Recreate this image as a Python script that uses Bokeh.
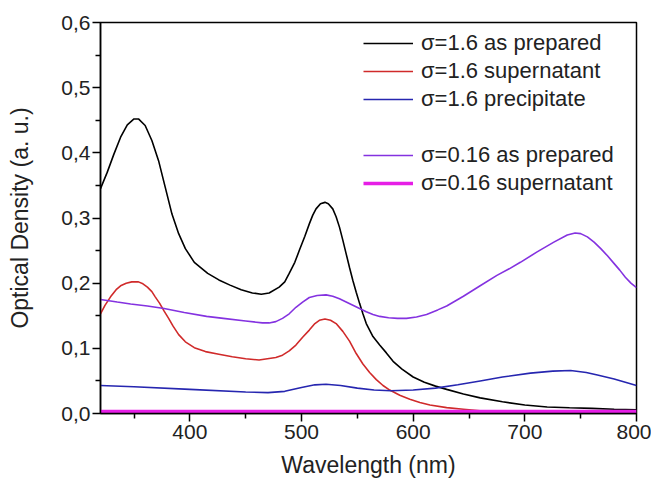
from bokeh.plotting import figure
from bokeh.models import (Range1d, FixedTicker, CustomJSTickFormatter, Legend, LegendItem)
from bokeh.embed import file_html
from bokeh.resources import INLINE

# ---- data ----
wl_black = [320, 326, 332, 338, 344, 350, 354, 360, 366, 372, 378, 384, 390, 396, 404, 416,
            426, 436, 446, 456, 464, 471, 480, 485, 489, 494, 498, 503, 507, 510, 513, 517,
            521, 524, 528, 531, 534, 537, 540, 543, 546, 549, 552, 555, 558, 564, 570, 576,
            582, 590, 600, 610, 620, 630, 645, 660, 680, 700, 720, 740, 760, 780, 800]
od_black = [0.345, 0.370, 0.398, 0.424, 0.443, 0.452, 0.452, 0.442, 0.419, 0.388, 0.347, 0.306,
            0.276, 0.253, 0.232, 0.215, 0.205, 0.197, 0.190, 0.185, 0.183, 0.185, 0.194, 0.202,
            0.215, 0.232, 0.250, 0.272, 0.291, 0.304, 0.314, 0.322, 0.324, 0.322, 0.314, 0.302,
            0.286, 0.266, 0.245, 0.224, 0.204, 0.186, 0.169, 0.153, 0.138, 0.118, 0.105, 0.093,
            0.080, 0.068, 0.056, 0.048, 0.042, 0.037, 0.030, 0.024, 0.018, 0.013, 0.010, 0.0088,
            0.0078, 0.0065, 0.0055]

wl_red = [320, 324, 329, 334, 338, 343, 348, 354, 358, 362, 366, 369, 373, 377, 381, 385, 390,
          396, 404, 414, 426, 438, 450, 462, 471, 477, 483, 489, 495, 501, 507, 512, 516, 521,
          526, 531, 537, 543, 549, 555, 561, 567, 573, 579, 588, 597, 606, 615, 630, 645, 660,
          675, 690, 710, 750, 800]
od_red = [0.153, 0.166, 0.179, 0.190, 0.196, 0.200, 0.202, 0.202, 0.199, 0.194, 0.187, 0.179,
          0.169, 0.157, 0.146, 0.134, 0.121, 0.110, 0.101, 0.095, 0.091, 0.087, 0.084, 0.082,
          0.0845, 0.086, 0.0895, 0.096, 0.105, 0.117, 0.128, 0.138, 0.143, 0.145, 0.143, 0.138,
          0.126, 0.111, 0.092, 0.076, 0.063, 0.052, 0.043, 0.036, 0.028, 0.022, 0.017, 0.013,
          0.009, 0.0065, 0.004, 0.002, 0.001, 0.0003, 0.0, 0.0]

wl_blue = [320, 350, 400, 450, 470, 485, 500, 512, 522, 535, 550, 565, 580, 600, 620, 640, 660,
           680, 705, 725, 741, 755, 765, 780, 790, 800]
od_blue = [0.043, 0.041, 0.037, 0.033, 0.032, 0.034, 0.040, 0.044, 0.045, 0.043, 0.039, 0.036,
           0.035, 0.036, 0.039, 0.044, 0.050, 0.056, 0.062, 0.065, 0.066, 0.063, 0.059, 0.053,
           0.048, 0.043]

wl_purple = [320, 335, 347, 362, 377, 395, 415, 430, 450, 465, 471, 477, 483, 489, 495, 501,
             507, 514, 522, 528, 534, 540, 546, 552, 558, 564, 570, 578, 586, 594, 603, 612,
             622, 630, 645, 660, 675, 686, 696, 711, 726, 738, 745, 750, 756, 762, 768, 774,
             780, 785, 790, 795, 800]
od_purple = [0.175, 0.171, 0.168, 0.165, 0.161, 0.155, 0.149, 0.146, 0.142, 0.139, 0.139, 0.141,
             0.146, 0.153, 0.163, 0.171, 0.178, 0.181, 0.182, 0.180, 0.176, 0.171, 0.166, 0.161,
             0.156, 0.152, 0.149, 0.147, 0.146, 0.146, 0.148, 0.152, 0.159, 0.165, 0.180, 0.196,
             0.212, 0.222, 0.232, 0.248, 0.263, 0.274, 0.277, 0.276, 0.271, 0.263, 0.253, 0.242,
             0.230, 0.220, 0.209, 0.200, 0.193]

wl_magenta = [320, 400, 500, 600, 700, 800]
od_magenta = [0.003, 0.003, 0.003, 0.003, 0.003, 0.003]

labels = ["\u03c3=1.6 as prepared", "\u03c3=1.6 supernatant", "\u03c3=1.6 precipitate",
          "\u03c3=0.16 as prepared", "\u03c3=0.16 supernatant"]

x_major = [400, 500, 600, 700, 800]
x_minor = [350, 450, 550, 650, 750]
y_major = [0.0, 0.1, 0.2, 0.3, 0.4, 0.5, 0.6]
y_minor = [0.05, 0.15, 0.25, 0.35, 0.45, 0.55]

FONT = "Liberation Sans"

p = figure(width=651, height=483, output_backend="svg", toolbar_location=None,
           x_range=Range1d(320, 800), y_range=Range1d(0, 0.6),
           min_border_left=100, min_border_right=15, min_border_top=22, min_border_bottom=70)
p.background_fill_color = "white"
p.border_fill_color = "white"
p.outline_line_color = "black"
p.outline_line_width = 1.5
p.xgrid.visible = False
p.ygrid.visible = False

r_black = p.line(wl_black, od_black, line_color="black", line_width=1.6)
r_red = p.line(wl_red, od_red, line_color="#d02a2a", line_width=1.6)
r_blue = p.line(wl_blue, od_blue, line_color="#2626b0", line_width=1.6)
r_purple = p.line(wl_purple, od_purple, line_color="#8432e0", line_width=1.6)
r_mag = p.line(wl_magenta, od_magenta, line_color="#e61ee6", line_width=3.5)
r_blank = p.line([], [], line_alpha=0)

for ax in (p.xaxis[0], p.yaxis[0]):
    ax.axis_line_width = 1.5
    ax.axis_line_color = "black"
    ax.major_tick_line_width = 1.5
    ax.minor_tick_line_width = 1.5
    ax.major_tick_out = 8
    ax.major_tick_in = 0
    ax.minor_tick_out = 5
    ax.minor_tick_in = 0
    ax.major_label_text_font = FONT
    ax.major_label_text_font_size = "21px"
    ax.major_label_text_color = "#222222"
    ax.axis_label_text_font = FONT
    ax.axis_label_text_font_size = "23px"
    ax.axis_label_text_font_style = "normal"
    ax.axis_label_text_color = "#222222"

p.xaxis.ticker = FixedTicker(ticks=x_major, minor_ticks=x_minor)
p.yaxis.ticker = FixedTicker(ticks=y_major, minor_ticks=y_minor)
p.yaxis.formatter = CustomJSTickFormatter(code="return tick.toFixed(1).replace('.', ',');")
p.xaxis.formatter = CustomJSTickFormatter(code="return tick.toFixed(0);")
p.xaxis.axis_label = "Wavelength (nm)"
p.yaxis.axis_label = "Optical Density (a. u.)"
p.xaxis.major_label_standoff = 3
p.yaxis.major_label_standoff = 2
p.xaxis.axis_label_standoff = 10
p.yaxis.axis_label_standoff = 25

legend = Legend(items=[
    LegendItem(label=labels[0], renderers=[r_black]),
    LegendItem(label=labels[1], renderers=[r_red]),
    LegendItem(label=labels[2], renderers=[r_blue]),
    LegendItem(label=" ", renderers=[r_blank]),
    LegendItem(label=labels[3], renderers=[r_purple]),
    LegendItem(label=labels[4], renderers=[r_mag]),
], location=(255, 209), margin=0, padding=8, spacing=2,
   label_height=26, glyph_height=26, glyph_width=50, label_standoff=8,
   label_text_font=FONT, label_text_font_size="22px", label_text_color="#222222",
   border_line_alpha=0, background_fill_alpha=0)
p.add_layout(legend)

open("out.html", "w").write(file_html(p, INLINE))
